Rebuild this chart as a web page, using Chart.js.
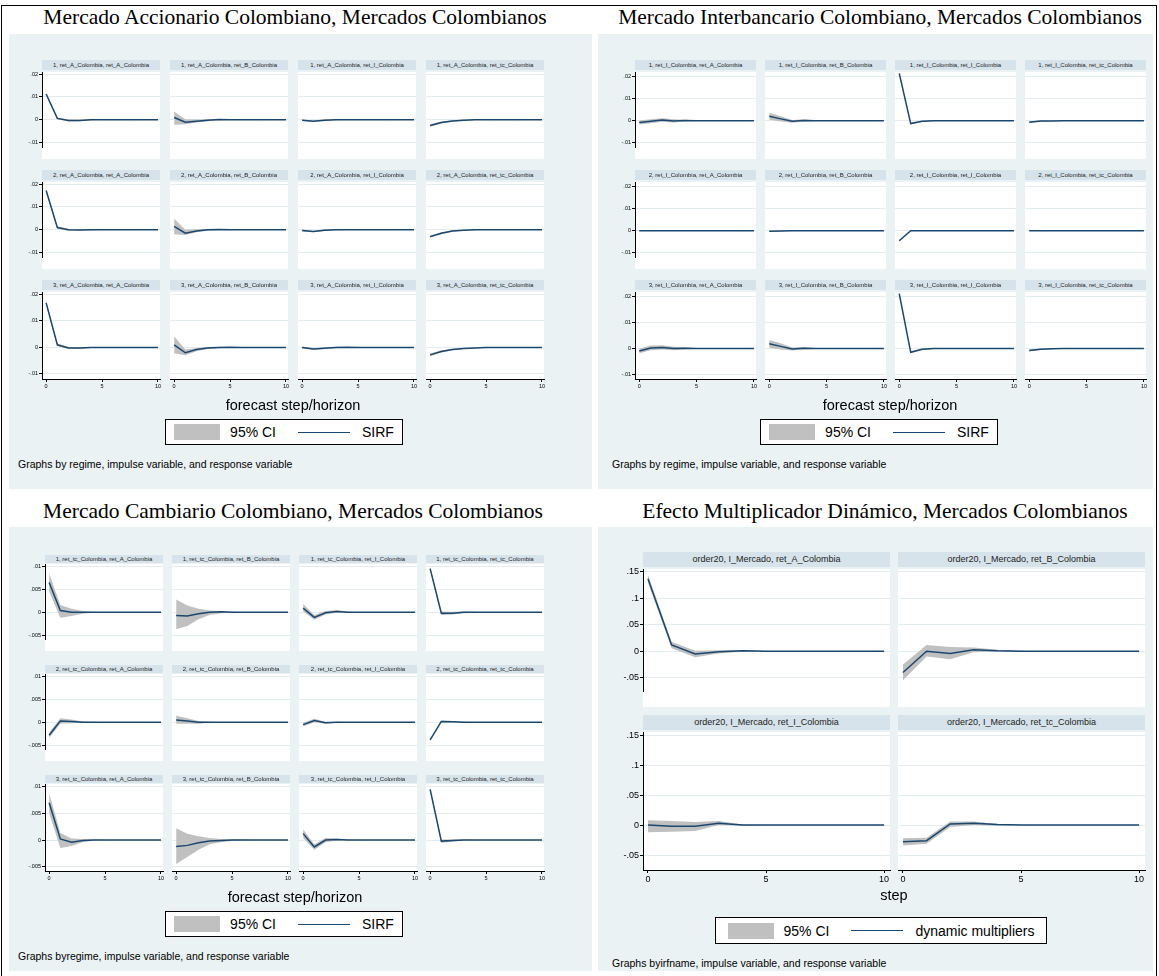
<!DOCTYPE html>
<html>
<head>
<meta charset="utf-8">
<script src="https://cdn.jsdelivr.net/npm/chart.js@4.4.1/dist/chart.umd.min.js"></script>
<style>
  html, body { margin: 0; padding: 0; background: #fff; }
  #page { position: relative; width: 1159px; height: 976px; overflow: hidden; font-family: "Liberation Sans", Arial, sans-serif; }
  .frame { position: absolute; left: 1px; top: 5px; width: 1156px; height: 990px; border: 1px solid #000; box-sizing: border-box; }
  .ptitle { position: absolute; font-family: "Liberation Serif", "Times New Roman", serif; font-size: 21.5px; line-height: 24px; color: #000; text-align: center; white-space: nowrap; }
  .bg { position: absolute; background: #eaf2f3; }
  .strip { position: absolute; background: #d6e3ea; color: #222; text-align: center; white-space: nowrap; overflow: hidden; }
  .plotbg { position: absolute; background: #fff; }
  canvas.sub { position: absolute; }
  .axt { position: absolute; text-align: center; white-space: nowrap; color: #000; font-size: 14.5px; }
  .legend { position: absolute; border: 1px solid #000; background: #fff; box-sizing: border-box; display: flex; align-items: center; justify-content: center; font-size: 14px; color: #000; }
  .legend .sw { display: inline-block; width: 46px; height: 16px; background: #c0c0c0; }
  .legend .ln { display: inline-block; width: 52px; height: 0; border-top: 1.5px solid #1a476f; }
  .note { position: absolute; white-space: nowrap; color: #000; font-size: 10.5px; }
</style>
</head>
<body>
<div id="page"><div class="frame"></div></div>
<script>
// horizon steps and tick labels
const steps = [0, 1, 2, 3, 4, 5, 6, 7, 8, 9, 10];
const xTicks = [0, 5, 10];
const xLabels = ['0', '5', '10'];
const smallTicks = [-0.01, 0, 0.01, 0.02];
const smallLabels = ['-.01', '0', '.01', '.02'];
const camTicks = [-0.005, 0, 0.005, 0.01];
const camLabels = ['-.005', '0', '.005', '.01'];
const mulTicks = [-0.05, 0, 0.05, 0.1, 0.15];
const mulLabels = ['-.05', '0', '.05', '.1', '.15'];

const responses = ['A', 'B', 'I', 'tc'];
const regimes = [1, 2, 3];

// Mercado Accionario: impulse ret_A (rows = regime, cols = response)
const accIrf = [
  [0.0113, 0.0006, -0.0003, -0.0003, 0, 0, 0, 0, 0, 0, 0],
  [0.0010, -0.0011, -0.0006, -0.0002, 0.0001, 0, 0, 0, 0, 0, 0],
  [-0.0002, -0.0006, -0.0002, 0, 0, 0, 0, 0, 0, 0, 0],
  [-0.0025, -0.0012, -0.0005, -0.0002, 0, 0, 0, 0, 0, 0, 0],
  [0.0172, 0.0010, 0.0000, -0.0001, 0, 0, 0, 0, 0, 0, 0],
  [0.0015, -0.0015, -0.0005, 0, 0.0001, 0, 0, 0, 0, 0, 0],
  [-0.0003, -0.0008, -0.0002, 0, 0, 0, 0, 0, 0, 0, 0],
  [-0.0030, -0.0015, -0.0005, -0.0002, 0, 0, 0, 0, 0, 0, 0],
  [0.0168, 0.0010, -0.0002, -0.0002, 0, 0, 0, 0, 0, 0, 0],
  [0.0010, -0.0020, -0.0008, -0.0002, 0, 0.0001, 0, 0, 0, 0, 0],
  [0.0000, -0.0006, -0.0003, 0, 0.0001, 0, 0, 0, 0, 0, 0],
  [-0.0028, -0.0015, -0.0008, -0.0004, -0.0002, 0, 0, 0, 0, 0, 0]
];
const accLo = [
  [0.0108, 0.0002, -0.0007, -0.0006, -0.0002, -0.0001, 0, 0, 0, 0, 0],
  [-0.0022, -0.0020, -0.0012, -0.0006, -0.0002, -0.0001, 0, 0, 0, 0, 0],
  [-0.0005, -0.0009, -0.0005, -0.0002, -0.0001, 0, 0, 0, 0, 0, 0],
  [-0.0030, -0.0016, -0.0008, -0.0004, -0.0001, 0, 0, 0, 0, 0, 0],
  [0.0166, 0.0005, -0.0004, -0.0004, -0.0002, -0.0001, 0, 0, 0, 0, 0],
  [-0.0020, -0.0023, -0.0011, -0.0004, -0.0001, 0, 0, 0, 0, 0, 0],
  [-0.0007, -0.0011, -0.0005, -0.0002, -0.0001, 0, 0, 0, 0, 0, 0],
  [-0.0035, -0.0019, -0.0008, -0.0004, -0.0001, 0, 0, 0, 0, 0, 0],
  [0.0162, 0.0005, -0.0006, -0.0005, -0.0002, -0.0001, 0, 0, 0, 0, 0],
  [-0.0022, -0.0029, -0.0014, -0.0006, -0.0003, -0.0001, -0.0001, 0, 0, 0, 0],
  [-0.0004, -0.0009, -0.0006, -0.0003, -0.0001, 0, 0, 0, 0, 0, 0],
  [-0.0033, -0.0019, -0.0011, -0.0006, -0.0003, -0.0001, 0, 0, 0, 0, 0]
];
const accHi = [
  [0.0118, 0.0010, 0.0001, 0.0000, 0.0002, 0.0001, 0, 0, 0, 0, 0],
  [0.0036, 0.0002, 0.0001, 0.0002, 0.0003, 0.0001, 0, 0, 0, 0, 0],
  [0.0001, -0.0003, 0.0001, 0.0002, 0.0001, 0, 0, 0, 0, 0, 0],
  [-0.0020, -0.0008, -0.0002, 0.0000, 0.0001, 0, 0, 0, 0, 0, 0],
  [0.0178, 0.0015, 0.0004, 0.0002, 0.0002, 0.0001, 0, 0, 0, 0, 0],
  [0.0048, 0.0000, 0.0002, 0.0003, 0.0003, 0.0001, 0, 0, 0, 0, 0],
  [0.0001, -0.0005, 0.0001, 0.0002, 0.0001, 0, 0, 0, 0, 0, 0],
  [-0.0025, -0.0011, -0.0002, 0.0000, 0.0001, 0, 0, 0, 0, 0, 0],
  [0.0174, 0.0015, 0.0002, 0.0001, 0.0002, 0.0001, 0, 0, 0, 0, 0],
  [0.0042, -0.0008, -0.0002, 0.0002, 0.0003, 0.0002, 0.0001, 0, 0, 0, 0],
  [0.0004, -0.0003, 0.0000, 0.0003, 0.0002, 0.0001, 0, 0, 0, 0, 0],
  [-0.0023, -0.0011, -0.0005, -0.0002, -0.0001, 0.0001, 0, 0, 0, 0, 0]
];

// Mercado Interbancario: impulse ret_I
const intIrf = [
  [-0.0008, -0.0003, 0.0003, -0.0001, 0.0001, 0, 0, 0, 0, 0, 0],
  [0.0020, 0.0008, -0.0003, 0.0001, 0, 0, 0, 0, 0, 0, 0],
  [0.0212, -0.0013, -0.0003, 0.0000, 0, 0, 0, 0, 0, 0, 0],
  [-0.0007, -0.0002, -0.0001, 0, 0, 0, 0, 0, 0, 0, 0],
  [0, 0, 0, 0, 0, 0, 0, 0, 0, 0, 0],
  [-0.0003, -0.0001, 0, 0, 0, 0, 0, 0, 0, 0, 0],
  [-0.0045, 0, 0, 0, 0, 0, 0, 0, 0, 0, 0],
  [0, 0, 0, 0, 0, 0, 0, 0, 0, 0, 0],
  [-0.0010, 0.0002, 0.0004, 0, 0.0001, 0, 0, 0, 0, 0, 0],
  [0.0018, 0.0008, -0.0002, 0.0001, 0, 0, 0, 0, 0, 0, 0],
  [0.0212, -0.0015, -0.0003, 0, 0, 0, 0, 0, 0, 0, 0],
  [-0.0008, -0.0003, -0.0001, 0, 0, 0, 0, 0, 0, 0, 0]
];
const intLo = [
  [-0.0017, -0.0012, -0.0005, -0.0008, -0.0003, -0.0001, 0, 0, 0, 0, 0],
  [0.0004, -0.0004, -0.0009, -0.0004, -0.0002, -0.0001, 0, 0, 0, 0, 0],
  [0.0208, -0.0017, -0.0006, -0.0002, -0.0001, 0, 0, 0, 0, 0, 0],
  [-0.0011, -0.0005, -0.0003, -0.0001, 0, 0, 0, 0, 0, 0, 0],
  [0, 0, 0, 0, 0, 0, 0, 0, 0, 0, 0],
  [-0.0005, -0.0003, -0.0001, 0, 0, 0, 0, 0, 0, 0, 0],
  [-0.0047, -0.0002, -0.0001, 0, 0, 0, 0, 0, 0, 0, 0],
  [0, 0, 0, 0, 0, 0, 0, 0, 0, 0, 0],
  [-0.0019, -0.0007, -0.0004, -0.0007, -0.0003, -0.0001, 0, 0, 0, 0, 0],
  [0.0003, -0.0004, -0.0008, -0.0004, -0.0002, -0.0001, 0, 0, 0, 0, 0],
  [0.0208, -0.0019, -0.0006, -0.0002, -0.0001, 0, 0, 0, 0, 0, 0],
  [-0.0012, -0.0006, -0.0003, -0.0001, 0, 0, 0, 0, 0, 0, 0]
];
const intHi = [
  [0.0001, 0.0006, 0.0011, 0.0006, 0.0004, 0.0001, 0, 0, 0, 0, 0],
  [0.0036, 0.0020, 0.0003, 0.0006, 0.0002, 0.0001, 0, 0, 0, 0, 0],
  [0.0216, -0.0009, 0.0000, 0.0002, 0.0001, 0, 0, 0, 0, 0, 0],
  [-0.0003, 0.0001, 0.0001, 0.0001, 0, 0, 0, 0, 0, 0, 0],
  [0, 0, 0, 0, 0, 0, 0, 0, 0, 0, 0],
  [-0.0001, 0.0001, 0.0001, 0, 0, 0, 0, 0, 0, 0, 0],
  [-0.0043, 0.0002, 0.0001, 0, 0, 0, 0, 0, 0, 0, 0],
  [0, 0, 0, 0, 0, 0, 0, 0, 0, 0, 0],
  [-0.0001, 0.0011, 0.0012, 0.0007, 0.0005, 0.0001, 0, 0, 0, 0, 0],
  [0.0033, 0.0020, 0.0004, 0.0006, 0.0002, 0.0001, 0, 0, 0, 0, 0],
  [0.0216, -0.0011, 0.0000, 0.0002, 0.0001, 0, 0, 0, 0, 0, 0],
  [-0.0004, 0.0000, 0.0001, 0.0001, 0, 0, 0, 0, 0, 0, 0]
];

// Mercado Cambiario: impulse ret_tc
const camIrf = [
  [0.0065, 0.0004, 0.0000, 0.0000, 0, 0, 0, 0, 0, 0, 0],
  [-0.0007, -0.0008, -0.0003, 0.0000, 0.0001, 0, 0, 0, 0, 0, 0],
  [0.0009, -0.0011, -0.0001, 0.0002, 0.0000, 0, 0, 0, 0, 0, 0],
  [0.0095, -0.0002, -0.0002, 0.0000, 0, 0, 0, 0, 0, 0, 0],
  [-0.0028, 0.0003, 0.0002, 0.0000, 0, 0, 0, 0, 0, 0, 0],
  [0.0005, 0.0003, 0.0000, 0.0000, 0, 0, 0, 0, 0, 0, 0],
  [-0.0005, 0.0004, -0.0001, 0.0000, 0, 0, 0, 0, 0, 0, 0],
  [-0.0038, 0.0002, 0.0001, 0.0000, 0, 0, 0, 0, 0, 0, 0],
  [0.0070, 0.0002, -0.0004, -0.0001, 0, 0, 0, 0, 0, 0, 0],
  [-0.0012, -0.0010, -0.0005, -0.0002, -0.0001, 0, 0, 0, 0, 0, 0],
  [0.0012, -0.0013, 0.0000, 0.0001, 0, 0, 0, 0, 0, 0, 0],
  [0.0095, -0.0002, -0.0001, 0, 0, 0, 0, 0, 0, 0, 0]
];
const camLo = [
  [0.0045, -0.0012, -0.0008, -0.0003, -0.0001, 0, 0, 0, 0, 0, 0],
  [-0.0037, -0.0030, -0.0015, -0.0006, -0.0002, -0.0001, 0, 0, 0, 0, 0],
  [0.0002, -0.0016, -0.0005, -0.0001, -0.0001, 0, 0, 0, 0, 0, 0],
  [0.0092, -0.0006, -0.0005, -0.0002, -0.0001, 0, 0, 0, 0, 0, 0],
  [-0.0034, -0.0003, -0.0002, -0.0001, 0, 0, 0, 0, 0, 0, 0],
  [-0.0003, -0.0003, -0.0003, -0.0001, 0, 0, 0, 0, 0, 0, 0],
  [-0.0009, 0.0000, -0.0003, -0.0001, 0, 0, 0, 0, 0, 0, 0],
  [-0.0040, 0.0000, -0.0001, 0, 0, 0, 0, 0, 0, 0, 0],
  [0.0050, -0.0015, -0.0011, -0.0004, -0.0001, 0, 0, 0, 0, 0, 0],
  [-0.0045, -0.0032, -0.0018, -0.0008, -0.0004, -0.0002, -0.0001, 0, 0, 0, 0],
  [0.0004, -0.0018, -0.0004, -0.0001, -0.0001, 0, 0, 0, 0, 0, 0],
  [0.0092, -0.0005, -0.0003, -0.0001, 0, 0, 0, 0, 0, 0, 0]
];
const camHi = [
  [0.0085, 0.0016, 0.0008, 0.0003, 0.0001, 0, 0, 0, 0, 0, 0],
  [0.0028, 0.0015, 0.0008, 0.0004, 0.0003, 0.0001, 0, 0, 0, 0, 0],
  [0.0018, -0.0006, 0.0003, 0.0005, 0.0002, 0, 0, 0, 0, 0, 0],
  [0.0098, 0.0002, 0.0001, 0.0002, 0.0001, 0, 0, 0, 0, 0, 0],
  [-0.0022, 0.0009, 0.0006, 0.0002, 0.0001, 0, 0, 0, 0, 0, 0],
  [0.0014, 0.0009, 0.0003, 0.0001, 0, 0, 0, 0, 0, 0, 0],
  [-0.0001, 0.0008, 0.0001, 0.0001, 0, 0, 0, 0, 0, 0, 0],
  [-0.0036, 0.0004, 0.0003, 0.0001, 0, 0, 0, 0, 0, 0, 0],
  [0.0088, 0.0013, 0.0003, 0.0002, 0.0001, 0, 0, 0, 0, 0, 0],
  [0.0022, 0.0012, 0.0007, 0.0004, 0.0002, 0.0001, 0.0001, 0, 0, 0, 0],
  [0.0020, -0.0008, 0.0004, 0.0003, 0.0001, 0, 0, 0, 0, 0, 0],
  [0.0098, 0.0001, 0.0001, 0.0001, 0, 0, 0, 0, 0, 0, 0]
];

// Efecto Multiplicador Dinamico: I_Mercado -> A, B, I, tc
const mulIrf = [
  [0.137, 0.012, -0.005, -0.001, 0.001, 0, 0, 0, 0, 0, 0],
  [-0.040, 0.000, -0.004, 0.003, 0.001, 0, 0, 0, 0, 0, 0],
  [0.000, -0.002, -0.002, 0.003, 0.000, 0, 0, 0, 0, 0, 0],
  [-0.028, -0.026, 0.002, 0.003, 0.001, 0, 0, 0, 0, 0, 0]
];
const mulLo = [
  [0.130, 0.006, -0.011, -0.004, -0.001, -0.0005, 0, 0, 0, 0, 0],
  [-0.055, -0.010, -0.015, -0.002, -0.001, -0.0005, 0, 0, 0, 0, 0],
  [-0.012, -0.011, -0.010, 0.000, -0.001, 0, 0, 0, 0, 0, 0],
  [-0.034, -0.031, -0.003, 0.000, -0.001, 0, 0, 0, 0, 0, 0]
];
const mulHi = [
  [0.145, 0.018, 0.001, 0.002, 0.002, 0.0005, 0, 0, 0, 0, 0],
  [-0.025, 0.012, 0.008, 0.007, 0.003, 0.001, 0, 0, 0, 0, 0],
  [0.008, 0.007, 0.005, 0.007, 0.001, 0, 0, 0, 0, 0, 0],
  [-0.022, -0.021, 0.006, 0.006, 0.002, 0, 0, 0, 0, 0, 0]
];

function stripNames(imp) {
  const out = [];
  regimes.forEach(r => responses.forEach(v => out.push(`${r}, ret_${imp}_Colombia, ret_${v}_Colombia`)));
  return out;
}
const mulStrips = responses.map(v => `order20, I_Mercado, ret_${v}_Colombia`);

const navy = '#1a476f';
const ciFill = '#c0c0c0';
const gridColor = '#e3ecef';
Chart.defaults.font.family = '"Liberation Sans", Arial, sans-serif';

const page = document.getElementById('page');
function el(cls, css, text) {
  const d = document.createElement('div');
  d.className = cls;
  Object.assign(d.style, css);
  if (text !== undefined) d.textContent = text;
  page.appendChild(d);
  return d;
}
function zeroPad(s) { s.paddingLeft = 0; s.paddingRight = 0; s.paddingTop = 0; s.paddingBottom = 0; }
const px = v => Math.round(v) + 'px';

function buildPanel(p) {
  el('bg', { left: px(p.bg[0]), top: px(p.bg[1]), width: px(p.bg[2]), height: px(p.bg[3]) });
  el('ptitle', { left: px(p.titleX - 300), width: '600px', top: px(p.titleY - 12) }, p.title);

  const M = 8;
  for (let r = 0; r < p.rows; r++) {
    for (let c = 0; c < p.cols; c++) {
      const i = r * p.cols + c;
      const L = Math.round(p.plotLeft + c * p.colPitch);
      const T = Math.round(p.plotTop + r * p.rowPitch);
      const isLeft = c === 0, isBottom = r === p.rows - 1;
      el('strip', { left: px(L), top: px(T - p.stripGap - p.stripH), width: px(p.plotW), height: px(p.stripH),
        fontSize: p.stripFont + 'px', lineHeight: px(p.stripH) }, p.strips[i]);
      el('plotbg', { left: px(L), top: px(T), width: px(p.plotW), height: px(p.plotH) });

      const yW = isLeft ? p.yAxisW : 0, xH = isBottom ? p.xAxisH : 0;
      const cv = document.createElement('canvas');
      cv.className = 'sub';
      cv.width = p.plotW + 2 * M + yW;
      cv.height = p.plotH + 2 * M + xH;
      cv.style.left = px(L - M - yW);
      cv.style.top = px(T - M);
      page.appendChild(cv);

      const xy = arr => arr.map((v, k) => ({ x: steps[k], y: v }));
      new Chart(cv, {
        type: 'line',
        data: {
          datasets: [
            { data: xy(p.hi[i]), fill: '+1', backgroundColor: ciFill, borderWidth: 0, pointRadius: 0, order: 2 },
            { data: xy(p.lo[i]), fill: false, borderWidth: 0, pointRadius: 0, order: 2 },
            { data: xy(p.irf[i]), fill: false, borderColor: navy, borderWidth: p.lineW, pointRadius: 0, order: 1 }
          ]
        },
        options: {
          responsive: false,
          animation: false,
          events: [],
          layout: { padding: M },
          plugins: { legend: { display: false }, tooltip: { enabled: false } },
          scales: {
            x: {
              type: 'linear', min: p.xMin, max: p.xMax, display: isBottom,
              afterBuildTicks: s => { s.ticks = xTicks.map(v => ({ value: v })); },
              afterFit: s => { s.height = p.xAxisH; zeroPad(s); },
              grid: { drawOnChartArea: false, tickLength: 3, tickColor: '#000' },
              border: { display: true, color: '#000', width: 1 },
              ticks: { font: { size: p.tickFont }, color: '#000', padding: 1, maxRotation: 0, autoSkip: false,
                callback: (v, k) => xLabels[k] }
            },
            y: {
              min: p.yMin, max: p.yMax,
              afterBuildTicks: s => { s.ticks = p.yTicks.map(v => ({ value: v })); },
              afterFit: s => { s.width = isLeft ? p.yAxisW : 0; zeroPad(s); },
              grid: { color: gridColor, lineWidth: 1, tickLength: isLeft ? 3 : 0, tickColor: '#000' },
              border: { display: isLeft, color: '#000', width: 1 },
              ticks: { display: isLeft, font: { size: p.tickFont }, color: '#000', padding: 1, autoSkip: false,
                callback: (v, k) => p.yLabels[k] }
            }
          }
        }
      });
    }
  }

  const right = p.plotLeft + (p.cols - 1) * p.colPitch + p.plotW;
  el('axt', { left: px((p.plotLeft + right) / 2 - 150), width: '300px', top: px(p.axisTitleY - 8), lineHeight: '16px' }, p.axisTitle);

  const lg = el('legend', { left: px(p.legend[0]), top: px(p.legend[1]), width: px(p.legend[2]), height: px(p.legend[3]) });
  lg.innerHTML = '<span class="sw"></span><span style="margin-left:10px">95% CI</span>' +
    '<span class="ln" style="margin-left:22px"></span><span style="margin-left:12px">' + p.lineName + '</span>';
  el('note', { left: px(p.note[0]), top: px(p.note[1]) }, p.noteText);
}

buildPanel({
  bg: [9, 34, 583, 455], title: 'Mercado Accionario Colombiano, Mercados Colombianos', titleX: 295, titleY: 17,
  rows: 3, cols: 4, plotLeft: 41.5, colPitch: 128.3, plotW: 118, plotTop: 72, rowPitch: 110, plotH: 87,
  stripH: 10, stripGap: 2, stripFont: 6, yAxisW: 14, xAxisH: 12, tickFont: 5.5, lineW: 1.5,
  xMin: -0.37, xMax: 10.18, yMin: -0.0119, yMax: 0.0209, yTicks: smallTicks, yLabels: smallLabels,
  irf: accIrf, lo: accLo, hi: accHi, strips: stripNames('A'),
  axisTitle: 'forecast step/horizon', axisTitleY: 405, legend: [165, 419, 238, 26], lineName: 'SIRF',
  note: [18, 458], noteText: 'Graphs by regime, impulse variable, and response variable'
});

buildPanel({
  bg: [598, 34, 555, 455], title: 'Mercado Interbancario Colombiano, Mercados Colombianos', titleX: 880, titleY: 17,
  rows: 3, cols: 4, plotLeft: 634.5, colPitch: 130.3, plotW: 121, plotTop: 72, rowPitch: 110, plotH: 87,
  stripH: 10, stripGap: 2, stripFont: 6, yAxisW: 14, xAxisH: 12, tickFont: 5.5, lineW: 1.5,
  xMin: -0.37, xMax: 10.18, yMin: -0.0118, yMax: 0.0218, yTicks: smallTicks, yLabels: smallLabels,
  irf: intIrf, lo: intLo, hi: intHi, strips: stripNames('I'),
  axisTitle: 'forecast step/horizon', axisTitleY: 405, legend: [760, 419, 238, 26], lineName: 'SIRF',
  note: [612, 458], noteText: 'Graphs by regime, impulse variable, and response variable'
});

buildPanel({
  bg: [9, 527, 583, 444], title: 'Mercado Cambiario Colombiano, Mercados Colombianos', titleX: 293, titleY: 511,
  rows: 3, cols: 4, plotLeft: 45, colPitch: 127, plotW: 118, plotTop: 564, rowPitch: 110, plotH: 87,
  stripH: 8, stripGap: 1, stripFont: 6, yAxisW: 17, xAxisH: 12, tickFont: 5.5, lineW: 1.5,
  xMin: -0.37, xMax: 10.18, yMin: -0.0058, yMax: 0.0105, yTicks: camTicks, yLabels: camLabels,
  irf: camIrf, lo: camLo, hi: camHi, strips: stripNames('tc'),
  axisTitle: 'forecast step/horizon', axisTitleY: 897, legend: [165, 911, 238, 26], lineName: 'SIRF',
  note: [18, 950], noteText: 'Graphs byregime, impulse  variable, and response variable'
});

buildPanel({
  bg: [598, 527, 555, 444], title: 'Efecto Multiplicador Dinámico, Mercados Colombianos', titleX: 885, titleY: 511,
  rows: 2, cols: 2, plotLeft: 643, colPitch: 255, plotW: 247, plotTop: 569, rowPitch: 163, plotH: 138,
  stripH: 15, stripGap: 2, stripFont: 9, yAxisW: 22, xAxisH: 16, tickFont: 9, lineW: 1.5,
  xMin: -0.21, xMax: 10.25, yMin: -0.075, yMax: 0.1555, yTicks: mulTicks, yLabels: mulLabels,
  irf: mulIrf, lo: mulLo, hi: mulHi, strips: mulStrips,
  axisTitle: 'step', axisTitleY: 895, legend: [715, 917, 332, 27], lineName: 'dynamic multipliers',
  note: [612, 957], noteText: 'Graphs byirfname, impulse variable, and response variable'
});
</script>
</body>
</html>
